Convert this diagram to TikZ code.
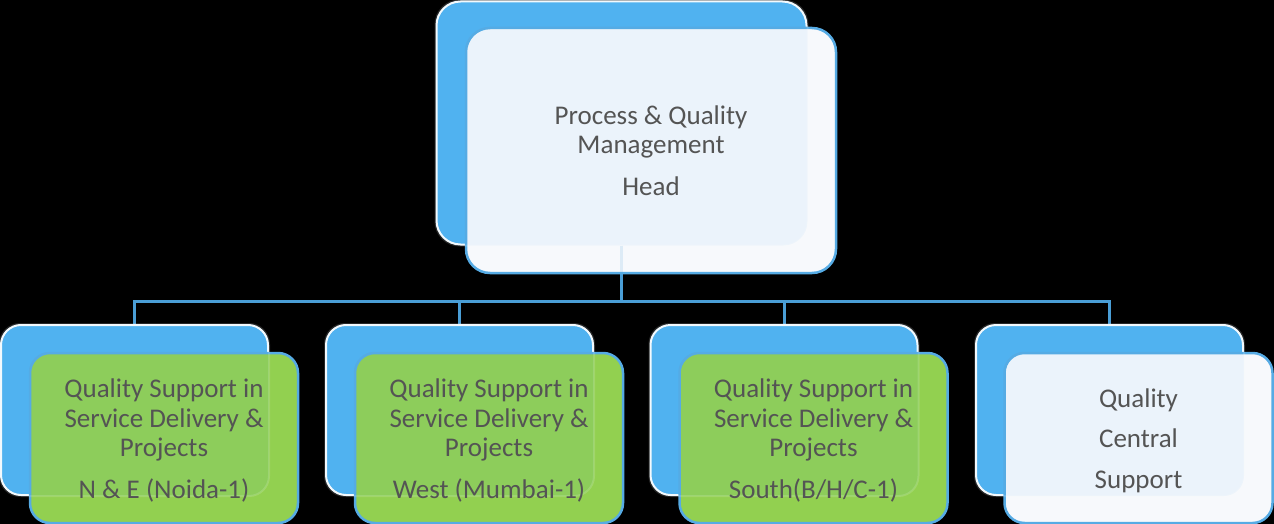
\documentclass[tikz,border=0pt]{standalone}
\usepackage{fontspec}
\setmainfont{Carlito}
\definecolor{backblue}{HTML}{50B2F0}
\definecolor{edgeblue}{HTML}{56ABE4}
\definecolor{linkblue}{HTML}{4A9ED6}
\definecolor{paleblue}{HTML}{F7F9FC}
\definecolor{leafgreen}{HTML}{92D050}
\definecolor{txtgray}{HTML}{545454}
\tikzset{
  backbox/.style={draw=white, line width=2pt, fill=backblue, rounded corners=#1, minimum width=267pt, minimum height=170pt, inner sep=0pt},
  backbox/.default=20pt,
  frontbox/.style={draw=edgeblue, line width=2.5pt, fill=#1, rounded corners=20pt, minimum width=268pt, minimum height=170pt, inner sep=0pt},
  boxtext/.style={align=center, text=txtgray, inner sep=0pt, font=\fontsize{27}{29.5}\selectfont},
  ghost/.style={draw=white, line width=2pt, fill=backblue, fill opacity=0.07, draw opacity=0.15, rounded corners=#1},
  ghost/.default=20pt,
  link/.style={draw=linkblue, line width=3pt},
}
\begin{document}
\begin{tikzpicture}[x=1pt, y=-1pt]
\fill[black] (0,0) rectangle (1274,524);
\useasboundingbox (0,0) rectangle (1274,524);
\coordinate (bus) at (0,301);
% back boxes
\node[backbox=24pt, minimum width=370pt, minimum height=243pt] (topback) at (621.5,123) {};
\node[backbox] (b1back) at (134.5,410) {};
\node[backbox] (b2back) at (459.5,410) {};
\node[backbox] (b3back) at (784,410) {};
\node[backbox] (b4back) at (1109.5,410) {};
% connectors
\draw[link] (topback.south) -- (topback.south |- bus);
\draw[link] (b1back.north) -- (b1back.north |- bus) -- (b4back.north |- bus) -- (b4back.north);
\draw[link] (b2back.north) -- (b2back.north |- bus);
\draw[link] (b3back.north) -- (b3back.north |- bus);
% front boxes
\node[frontbox=paleblue, rounded corners=24pt, minimum width=370pt, minimum height=245pt] (topfront) at (651,150.5) {};
\node[frontbox=leafgreen] (b1front) at (164,438) {};
\node[frontbox=leafgreen] (b2front) at (489,438) {};
\node[frontbox=leafgreen] (b3front) at (813.5,438) {};
\node[frontbox=paleblue] (b4front) at (1138.5,438) {};
% back boxes faintly seen through the front boxes
\draw[ghost=24pt] (topback.south west) rectangle (topback.north east);
\draw[ghost] (b1back.south west) rectangle (b1back.north east);
\draw[ghost] (b2back.south west) rectangle (b2back.north east);
\draw[ghost] (b3back.south west) rectangle (b3back.north east);
\draw[ghost] (b4back.south west) rectangle (b4back.north east);
\draw[link, draw opacity=0.15] (topback.south) -- (topfront.south -| topback.south);
% texts
\node[boxtext] (t0) at (topfront.center) {Process \& Quality\\Management\\[12pt]Head};
\node[boxtext] (t1) at ([yshift=-2.5pt]b1front.center) {Quality Support in\\Service Delivery \&\\Projects\\[12pt]N \& E (Noida-1)};
\node[boxtext] (t2) at ([yshift=-2.5pt]b2front.center) {Quality Support in\\Service Delivery \&\\Projects\\[12pt]West (Mumbai-1)};
\node[boxtext] (t3) at ([yshift=-2.5pt]b3front.center) {Quality Support in\\Service Delivery \&\\Projects\\[12pt]South(B/H/C-1)};
\node[boxtext] (t4) at ([yshift=-2.5pt]b4front.center) {Quality\\[11pt]Central\\[11pt]Support};
\end{tikzpicture}
\end{document}
